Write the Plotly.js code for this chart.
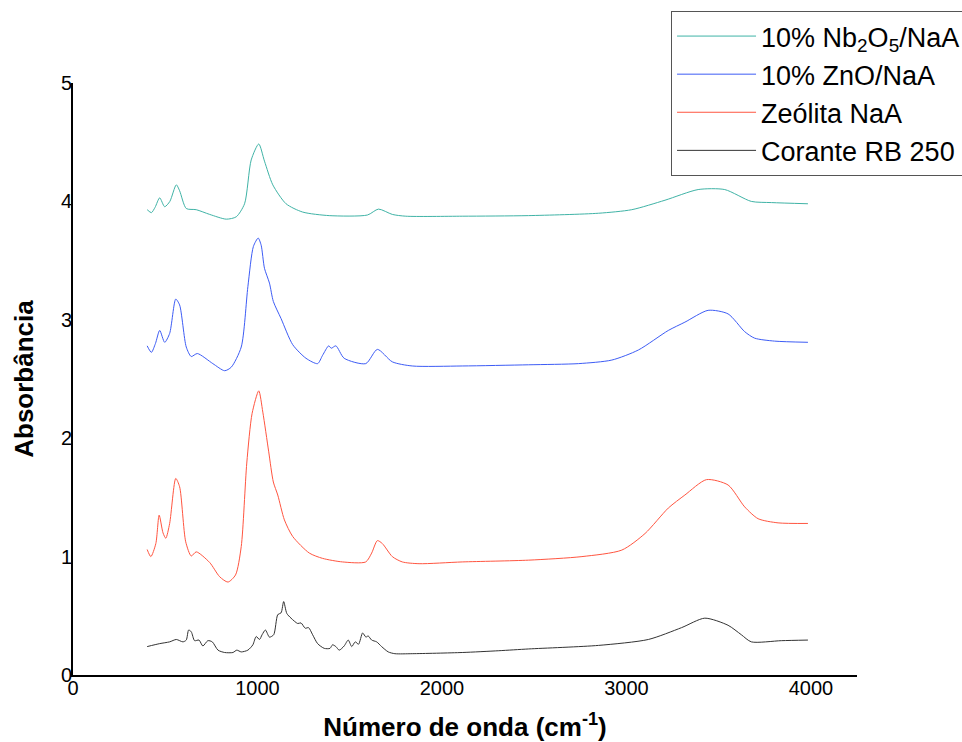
<!DOCTYPE html>
<html>
<head>
<meta charset="utf-8">
<script src="https://cdn.plot.ly/plotly-3.0.1.min.js"></script>
<style>html,body{margin:0;padding:0;background:#fff;overflow:hidden;}#chart{width:962px;height:742px;}</style>
</head>
<body>
<div id="chart"></div>
<script>
// Series names
const seriesNames = ["10% Nb<sub>2</sub>O<sub>5</sub>/NaA", "10% ZnO/NaA", "Zeólita NaA", "Corante RB 250"];

// 10% Nb2O5/NaA
const nbX = [402,425,445,470,497,525,560,578,614,668,741,831,885,930,966,1007,1038,1083,1155,1245,1389,1596,1656,1731,1804,2110,2470,2849,3029,3209,3389,3533,3677,3786,3984];
const nbY = [3.93,3.905,3.95,4.03,3.955,4.0,4.14,4.09,3.94,3.93,3.89,3.85,3.87,3.98,4.35,4.485,4.34,4.14,3.98,3.91,3.88,3.885,3.935,3.89,3.875,3.875,3.88,3.90,3.93,4.01,4.10,4.10,4.00,3.99,3.98];

// 10% ZnO/NaA
const znX = [402,425,447,470,497,524,557,578,614,641,674,758,822,858,912,948,978,1004,1020,1038,1065,1086,1128,1191,1263,1326,1353,1386,1400,1425,1470,1587,1650,1731,1839,2110,2470,2741,2921,3065,3227,3317,3443,3551,3641,3695,3803,3984];
const znY = [2.78,2.725,2.80,2.91,2.81,2.885,3.175,3.125,2.77,2.69,2.715,2.63,2.57,2.60,2.77,3.28,3.62,3.69,3.63,3.435,3.31,3.155,3.01,2.79,2.675,2.63,2.70,2.78,2.76,2.78,2.675,2.63,2.75,2.645,2.61,2.61,2.62,2.63,2.66,2.745,2.91,2.98,3.08,3.05,2.90,2.845,2.82,2.81];

// Zeólita NaA
const zeX = [402,422,449,467,488,503,524,557,578,611,641,668,741,795,840,881,912,942,971,1007,1029,1061,1086,1110,1146,1191,1281,1353,1461,1587,1619,1650,1677,1731,1785,1876,2110,2470,2759,2975,3101,3227,3317,3434,3551,3641,3714,3822,3984];
const zeY = [1.06,1.00,1.11,1.35,1.20,1.155,1.28,1.66,1.59,1.125,1.005,1.04,0.95,0.83,0.785,0.845,1.085,1.79,2.21,2.40,2.22,1.885,1.63,1.52,1.31,1.17,1.03,0.985,0.955,0.955,1.03,1.135,1.11,1.00,0.955,0.94,0.955,0.97,1.00,1.055,1.195,1.41,1.52,1.65,1.605,1.42,1.32,1.285,1.28];

// Corante RB 250
const coX = [402,470,524,560,596,614,627,641,659,683,704,731,755,786,822,867,888,912,948,975,993,1011,1025,1043,1065,1088,1110,1128,1142,1159,1182,1218,1236,1259,1277,1299,1326,1362,1393,1407,1425,1443,1470,1492,1511,1530,1548,1570,1588,1600,1619,1646,1673,1709,1745,1839,2110,2308,2470,2849,3119,3299,3425,3551,3623,3677,3840,3984];
const coY = [0.24,0.265,0.28,0.30,0.28,0.295,0.38,0.365,0.29,0.295,0.245,0.29,0.28,0.21,0.19,0.19,0.21,0.195,0.21,0.255,0.325,0.30,0.34,0.38,0.32,0.34,0.51,0.525,0.62,0.52,0.48,0.435,0.44,0.395,0.40,0.34,0.265,0.225,0.225,0.255,0.24,0.21,0.245,0.295,0.24,0.28,0.26,0.355,0.32,0.33,0.295,0.28,0.24,0.195,0.18,0.18,0.19,0.205,0.22,0.25,0.30,0.40,0.48,0.42,0.34,0.28,0.29,0.295];

const colors = ["#3fb3a6", "#3d5cf5", "#ff5540", "#333333"];
const xTicks = [0,1000,2000,3000,4000];
const yTicks = [0,1,2,3,4,5];

const FONT = "'Liberation Sans', Arial, sans-serif";

const xs = [nbX, znX, zeX, coX];
const ys = [nbY, znY, zeY, coY];
const traces = xs.map((x, i) => ({
  type: 'scatter', mode: 'lines', x: x, y: ys[i], name: seriesNames[i],
  line: {color: colors[i], width: 1, shape: 'spline', smoothing: 0.7}
}));

const layout = {
  width: 962, height: 742,
  margin: {l: 73, r: 105, t: 83, b: 67, pad: 0, autoexpand: false},
  paper_bgcolor: '#fff', plot_bgcolor: '#fff',
  font: {family: FONT, color: '#000'},
  showlegend: true,
  legend: {
    x: 0.7628, y: 1.1216, xanchor: 'left', yanchor: 'top',
    bgcolor: '#fff', bordercolor: '#555', borderwidth: 1,
    font: {family: FONT, size: 27, color: '#000'},
    itemwidth: 79, tracegroupgap: 0
  },
  xaxis: {
    range: [0, 4250], tickvals: xTicks, ticktext: xTicks.map(String),
    showgrid: false, zeroline: false, showline: true, linecolor: '#000', linewidth: 2,
    ticks: '', ticklabelstandoff: -6, tickfont: {family: FONT, size: 20, color: '#000'},
    title: {text: '<b>Número de onda (cm<sup>-1</sup>)</b>', font: {family: FONT, size: 26, color: '#000'}, standoff: 22}
  },
  yaxis: {
    range: [0, 5], tickvals: yTicks, ticktext: yTicks.map(String),
    showgrid: false, zeroline: false, showline: true, linecolor: '#000', linewidth: 2,
    ticks: '', ticklabelstandoff: -5, tickfont: {family: FONT, size: 20, color: '#000'},
    title: {text: '<b>Absorbância</b>', font: {family: FONT, size: 26, color: '#000'}, standoff: 20}
  }
};

Plotly.newPlot('chart', traces, layout, {displayModeBar: false, staticPlot: true});
</script>
</body>
</html>
